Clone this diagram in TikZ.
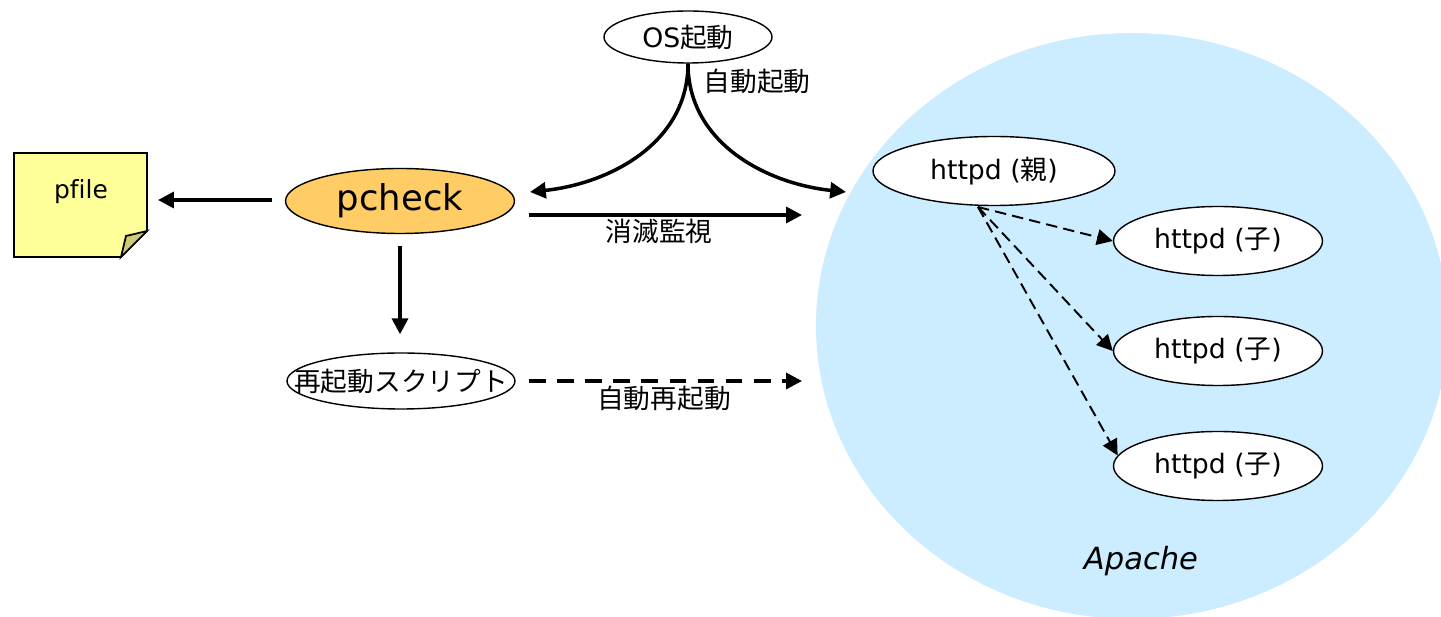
\documentclass[tikz,border=0pt]{standalone}
\usepackage{fontspec}
\setmainfont[Ligatures=NoCommon]{DejaVu Sans}
\newfontfamily\cjk{Noto Sans CJK JP}
\usetikzlibrary{arrows.meta,positioning,shapes.geometric}
\definecolor{apachefill}{HTML}{CCECFF}
\definecolor{pcheckfill}{HTML}{FFCC66}
\definecolor{notefill}{HTML}{FFFF99}
\definecolor{foldfill}{HTML}{CCCC7A}

\begin{document}
\begin{tikzpicture}[
  x=0.02cm, y=-0.02cm,
  >={Stealth[length=9pt,width=9pt,inset=0pt]},
  proc/.style={draw, ellipse, line width=0.8pt, fill=white, inner sep=0pt, font=\fontsize{15.2}{17}\selectfont},
  note/.style={font=\fontsize{15.2}{17}\selectfont\cjk},
  flow/.style={->, line width=2pt},
  spawn/.style={->, line width=1.1pt, dash pattern=on 6.5pt off 3.5pt}
]
\useasboundingbox (0,0) rectangle (1441,617);
\clip (0,0) rectangle (1441,617);

% Apache area
\node[ellipse, fill=apachefill, minimum width=632*0.02cm, minimum height=586*0.02cm, inner sep=0pt] (apache) at (1132,326) {};
\node[font=\fontsize{17.4}{19}\selectfont\itshape] (apachelabel) at (1141,561) {Apache};

% pfile note
\draw[line width=1pt, fill=notefill] (14,153) -- (147,153) -- (147,231) -- (121,257) -- (14,257) -- cycle;
\draw[line width=1pt, fill=foldfill] (147,231) -- (126,236) -- (121,257) -- cycle;
\node[font=\fontsize{14.2}{16}\selectfont] (pfile) at (81,192) {pfile};

% Nodes
\node[proc, minimum width=168*0.02cm, minimum height=52*0.02cm] (os) at (688,37) {OS{\cjk 起動}};
\node[proc, fill=pcheckfill, minimum width=229*0.02cm, minimum height=65*0.02cm, font=\fontsize{20.2}{24}\selectfont] (pcheck) at (400,201) {pcheck};
\node[proc, inner xsep=-15.5pt, minimum width=228*0.02cm, minimum height=56*0.02cm] (restart) at (401,381) {\cjk 再起動スクリプト};
\node[proc, minimum width=242*0.02cm, minimum height=69*0.02cm] (parent) at (994,171) {httpd ({\cjk 親})};
\node[proc, minimum width=209*0.02cm, minimum height=69*0.02cm] (child1) at (1218,241) {httpd ({\cjk 子})};
\node[proc, minimum width=209*0.02cm, minimum height=69*0.02cm] (child2) at (1218,351) {httpd ({\cjk 子})};
\node[proc, minimum width=209*0.02cm, minimum height=69*0.02cm] (child3) at (1218,466) {httpd ({\cjk 子})};

% Free ends of the arrows
\coordinate (noteedge) at (158,200);
\coordinate (bootleft) at (530,192);
\coordinate (bootright) at (846,192);
\coordinate (watchfrom) at (529,215);
\coordinate (watchto) at (802,215);
\coordinate (redofrom) at (529,381);
\coordinate (redoto) at (802,381);
\coordinate (fork) at (978,207);

% Arcs: boot
\draw[flow] (os.south) to[out=-90, in=6] (bootleft);
\draw[flow] (os.south) to[out=-90, in=174] (bootright);

% Arcs: pcheck
\draw[flow, shorten <=13*0.02cm] (pcheck.west |- noteedge) -- (noteedge);
\draw[flow] (watchfrom) -- (watchto);
\draw[flow, shorten >=18*0.02cm, shorten <=12*0.02cm] (pcheck.south) -- (pcheck.south |- restart.north);
\draw[flow, dash pattern=on 9.5pt off 6.5pt] (redofrom) -- (redoto);

% Arcs: parent -> children
\draw[spawn] (fork) -- (child1.west);
\draw[spawn] (fork) -- (child2.west);
\draw[spawn] (fork) -- (child3.174);

% Labels
\node[note] (bootlabel) at (757,81) {自動起動};
\node[note] (watchlabel) at (659,231) {消滅監視};
\node[note] (redolabel) at (664,398) {自動再起動};
\end{tikzpicture}
\end{document}
